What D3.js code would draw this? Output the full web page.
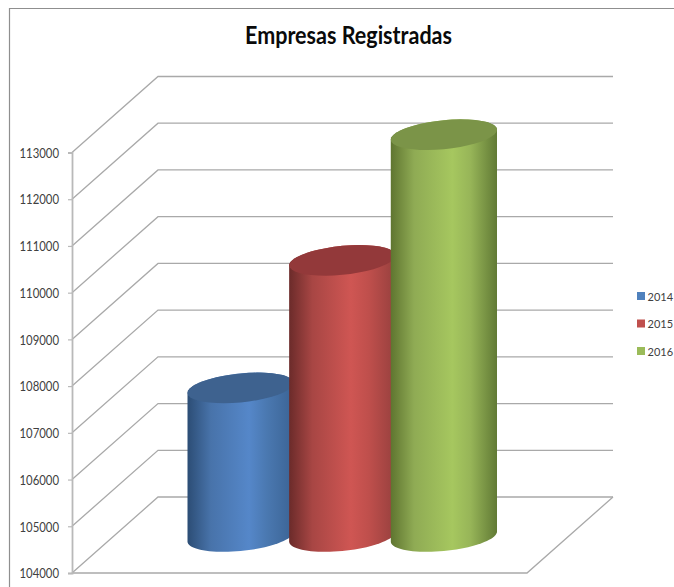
<!DOCTYPE html>
<html><head><meta charset="utf-8">
<script src="https://cdn.jsdelivr.net/npm/d3@7"></script>
<style>html,body{margin:0;padding:0;background:#fff;overflow:hidden}svg{display:block}</style>
</head><body><svg id="c" width="674" height="587"></svg>
<script>
const chartTitle = "Empresas Registradas";
const years = ["2014","2015","2016"];
const values = [107180, 109910, 112600];
const tickValues = [104000,105000,106000,107000,108000,109000,110000,111000,112000,113000];
const swatches = ["#4f81bd","#c0504d","#9bbb59"];
const tops = ["#3e628f","#93393a","#7b9448"];
const ramps = [
  ["#2c4d75","#4873aa","#5587c9","#4a78b0","#3b6394"],
  ["#6b2b2a","#a84644","#cf5653","#bf4f4c","#97403e"],
  ["#5f7530","#8fab54","#a6c75f","#97b558","#617a35"]
];
const gridColor = "#a9a9a9";

const svg = d3.select("#c");
const F = "Lato, 'Liberation Sans', sans-serif";
const left = 72, floorW = 455, depthX = 86, depthY = 76;
const y = d3.scaleLinear().domain([104000,113000]).range([573,152.5]);
const x = d3.scaleBand().domain(years).range([187.5,497]).paddingInner(-0.045).paddingOuter(0);

// frame
svg.append("path").attr("d","M9.5,587V8.5H674").attr("fill","none").attr("stroke","#8f8f8f").attr("stroke-width",1.2);

// gridlines
const g = svg.append("g").attr("fill","none").attr("stroke",gridColor).attr("stroke-width",1.3);
g.selectAll("path").data(tickValues).join("path")
 .attr("d",v=>`M${left},${y(v)}L${left+depthX},${y(v)-depthY}H${left+depthX+floorW}`);
g.append("path").attr("d",`M${left},${y(104000)}H${left+floorW}L${left+floorW+depthX},${y(104000)-depthY}`);

// axis
const ax = svg.append("g").attr("transform",`translate(${left},0)`)
 .call(d3.axisLeft(y).tickValues(tickValues).tickFormat(d3.format("d")).tickSize(4).tickPadding(9));
ax.select(".domain").attr("stroke","#b9b9b9").attr("stroke-width",1.8);
ax.selectAll(".tick line").attr("stroke","#b9b9b9").attr("stroke-width",1.2);
ax.selectAll("text").attr("font-family",F).attr("font-size",12.6).attr("fill","#404040")
 .attr("y",0.7).attr("textLength",39.5).attr("lengthAdjust","spacingAndGlyphs");

// cylinders
const defs = svg.append("defs");
ramps.forEach((r,i)=>{
  const lg = defs.append("linearGradient").attr("id","g"+i);
  [0,0.22,0.58,0.75,1].forEach((o,j)=>lg.append("stop").attr("offset",o).attr("stop-color",r[j]));
});
const depthOff = 36.5, ry = 14.5, shear = 5;
function arc(cx,cy,a,t0,t1){
  return d3.range(0,41).map(k=>{
    const t = t0+(t1-t0)*k/40;
    return [cx+a*Math.cos(t), cy+ry*Math.sin(t)-shear*Math.cos(t)];
  });
}
const line = d3.line();
const base = y(104000)-depthOff;
const cyl = svg.append("g").selectAll("g").data(years).join("g");
cyl.each(function(d,i){
  const a = x.bandwidth()/2, cx = x(d)+a, top = y(values[i])-depthOff, s = d3.select(this);
  const lower = arc(cx,base,a,Math.PI,0);
  const upper = arc(cx,top,a,0,-Math.PI);
  s.append("path").attr("d",line([...lower,...upper])+"Z").attr("fill",`url(#g${i})`);
  s.append("path").attr("d",line(arc(cx,top,a,0,2*Math.PI))+"Z").attr("fill",tops[i]);
});

// title
svg.append("text").text(chartTitle).attr("x",348.5).attr("y",44).attr("text-anchor","middle")
 .attr("font-family",F).attr("font-weight",700).attr("font-size",24).attr("fill","#0a0a0a")
 .attr("textLength",207).attr("lengthAdjust","spacingAndGlyphs");

// legend
const leg = svg.append("g").selectAll("g").data(years).join("g");
const ly = d3.scalePoint().domain(years).range([296,351]);
leg.append("rect").attr("x",637).attr("y",d=>ly(d)-4).attr("width",8).attr("height",8).attr("fill",(d,i)=>swatches[i]);
leg.append("text").text(d=>d).attr("x",647.5).attr("y",d=>ly(d)+4.5)
 .attr("font-family",F).attr("font-size",11).attr("fill","#404040");
</script></body></html>
